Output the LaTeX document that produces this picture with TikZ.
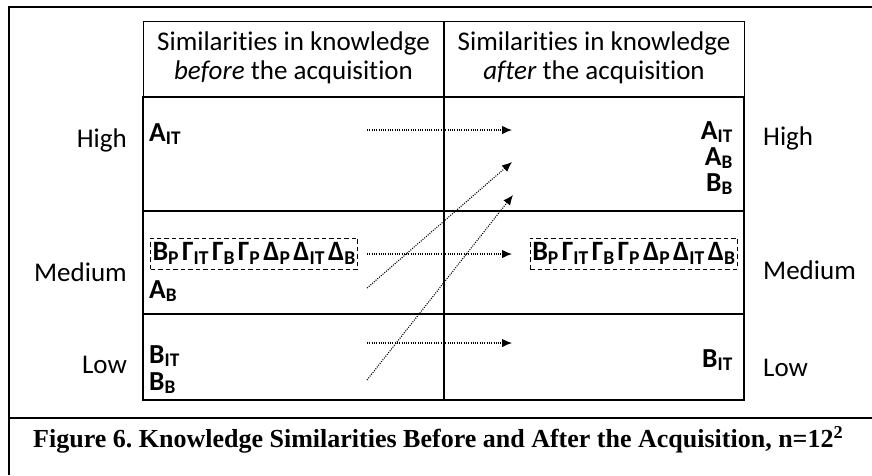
\documentclass[tikz,border=0pt]{standalone}
\usepackage{fontspec}
\setmainfont{Carlito}[Ligatures={NoCommon}]
\newfontfamily\capfont{Liberation Serif}
\usepackage{tikz}
\usetikzlibrary{arrows.meta}

\frenchspacing
\newcommand{\kn}[2]{#1\textsubscript{#2}}
\newcommand{\gsp}{\hspace{3pt}}
\tikzset{
  cell/.style={font=\bfseries\fontsize{27.5}{25}\selectfont, inner sep=0pt},
  lvl/.style={font=\fontsize{27}{29}\selectfont, inner sep=0pt},
  grp/.style={draw, dashed, dash pattern=on 4.5pt off 3pt, line width=1pt, inner xsep=2pt, inner ysep=0pt, minimum height=31pt, font=\bfseries\fontsize{28}{27}\selectfont},
  move/.style={dash pattern=on 1pt off 1.3pt, line width=1.1pt, -{Latex[length=10pt,width=8.5pt]}}
}

\begin{document}
\begin{tikzpicture}[x=1pt,y=-1pt]
\useasboundingbox (0,0) rectangle (872,475);
% frame and caption
\draw[line width=2.5pt]
(9,475) -- (9,7) -- (872,7)
(9,418) -- (872,418);
\node[font=\capfont\bfseries\fontsize{26}{30}\selectfont, anchor=west, inner sep=0pt] (cap) at (33,440)
{Figure 6. Knowledge Similarities Before and After the Acquisition, n=12\textsuperscript{2}};
% table
\draw[line width=1pt] (143,21) rectangle (744,97);
\draw[line width=1.2pt] (444,21) -- (444,400);
\draw[line width=2pt]
(143,97) rectangle (744,400)
(143,211) -- (744,211)
(143,314) -- (744,314);
\node[lvl, align=center] (hbefore) at (293.5,58) {Similarities in knowledge\\\textit{before} the acquisition};
\node[lvl, align=center] (hafter) at (594,58) {Similarities in knowledge\\\textit{after} the acquisition};
% levels
\node[lvl, anchor=east] (highl) at (127,140) {High};
\node[lvl, anchor=east] (medl) at (127,272) {Medium};
\node[lvl, anchor=east] (lowl) at (127,365) {Low};
\node[lvl, anchor=west] (highr) at (763,138) {High};
\node[lvl, anchor=west] (medr) at (763,270) {Medium};
\node[lvl, anchor=west] (lowr) at (763,368) {Low};
% before
\node[cell, anchor=base west] (aitb) at (149,141) {\kn{A}{IT}};
\node[grp, anchor=west] (grpb) at (150,253.5) {\kn{B}{P}\gsp\kn{Γ}{IT}\gsp\kn{Γ}{B}\gsp\kn{Γ}{P}\gsp\kn{Δ}{P}\gsp\kn{Δ}{IT}\gsp\kn{Δ}{B}};
\node[cell, anchor=base west] (abb) at (149,298) {\kn{A}{B}};
\node[cell, anchor=base west] (bitb) at (149,363) {\kn{B}{IT}};
\node[cell, anchor=base west] (bbb) at (149,390) {\kn{B}{B}};
% after
\node[cell, anchor=base east] (aita) at (733,139) {\kn{A}{IT}};
\node[cell, anchor=base east] (aba) at (733,165) {\kn{A}{B}};
\node[cell, anchor=base east] (bba) at (733,191) {\kn{B}{B}};
\node[grp, anchor=east] (grpa) at (738,253.5) {\kn{B}{P}\gsp\kn{Γ}{IT}\gsp\kn{Γ}{B}\gsp\kn{Γ}{P}\gsp\kn{Δ}{P}\gsp\kn{Δ}{IT}\gsp\kn{Δ}{B}};
\node[cell, anchor=base east] (bita) at (733,367) {\kn{B}{IT}};
% moves
\coordinate (h1) at (367,130);
\coordinate (h2) at (512,130);
\coordinate (m1) at (367,254);
\coordinate (m2) at (512,254);
\coordinate (l1) at (367,343);
\coordinate (l2) at (512,343);
\coordinate (d1) at (367,288);
\coordinate (d2) at (512,162);
\coordinate (e1) at (367,380);
\coordinate (e2) at (513,195);
\draw[move] (h1) -- (h2);
\draw[move] (m1) -- (m2);
\draw[move] (l1) -- (l2);
\draw[move] (d1) -- (d2);
\draw[move] (e1) -- (e2);
\end{tikzpicture}
\end{document}
